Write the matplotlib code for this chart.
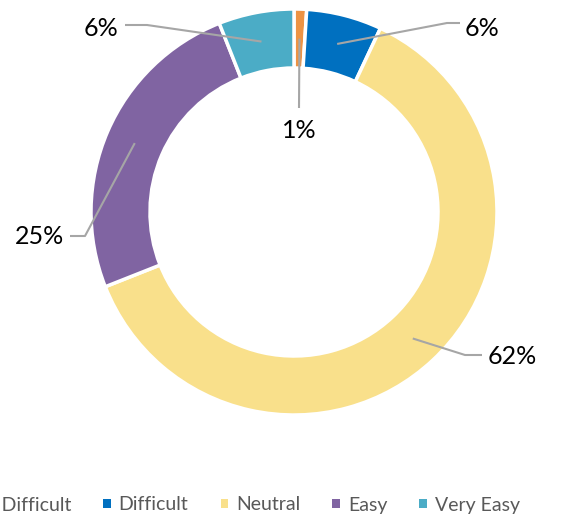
import matplotlib
matplotlib.use('Agg')
import matplotlib.pyplot as plt
from matplotlib.patches import Patch
import numpy as np

# Dados
categorias = ['Very Difficult', 'Difficult', 'Neutral', 'Easy', 'Very Easy']
valores = [1, 6, 62, 25, 6]
rotulos = ['1%', '6%', '62%', '25%', '6%']
cores = ['#ED9344', '#0070C0', '#F9E08B', '#8064A2', '#4BACC6']

plt.rcParams['font.family'] = ['Lato', 'DejaVu Sans']

W, H = 569, 519
fig = plt.figure(figsize=(W / 100, H / 100), dpi=100)
ax = fig.add_axes([0, 0, 1, 1])

cx, cy, R, largura = 294, H - 212, 203, 59
wedges, _ = ax.pie(valores, colors=cores, startangle=90, counterclock=False,
                   radius=R, center=(cx, cy),
                   wedgeprops=dict(width=largura, edgecolor='white', linewidth=2.5))
ax.set_xlim(0, W)
ax.set_ylim(0, H)
ax.set_aspect('equal')
ax.axis('off')

# posicoes dos rotulos (pixels a partir do topo): texto, alinhamento, cotovelo da linha
layout = [
    dict(txt=(299, 130), ha='center', path=[(299, 108)]),
    dict(txt=(465, 28), ha='left', path=[(447, 23), (460, 23)]),
    dict(txt=(488, 356), ha='left', path=[(465, 355), (482, 355)]),
    dict(txt=(64, 237), ha='right', path=[(85, 236), (70, 236)]),
    dict(txt=(118, 28), ha='right', path=[(147, 25), (125, 25)]),
]

r_meio = R - largura / 2
for w, lab, lay in zip(wedges, rotulos, layout):
    ang = np.deg2rad((w.theta1 + w.theta2) / 2)
    ax_, ay_ = cx + r_meio * np.cos(ang), cy + r_meio * np.sin(ang)
    xs = [ax_] + [p[0] for p in lay['path']]
    ys = [ay_] + [H - p[1] for p in lay['path']]
    ax.plot(xs, ys, color='#A6A6A6', lw=1.5, solid_capstyle='butt')
    ax.text(lay['txt'][0], H - lay['txt'][1], lab, ha=lay['ha'], va='center',
            fontsize=18, color='black')

handles = [Patch(facecolor=c, edgecolor='none') for c in cores]
fig.legend(handles, categorias, loc='center right', bbox_to_anchor=(520 / W, 1 - 505 / H),
           ncol=5, frameon=False, fontsize=14, labelcolor='#595959',
           handlelength=0.4, handleheight=0.4, handletextpad=0.4, columnspacing=1.65,
           borderaxespad=0, borderpad=0)

fig.savefig('out.png', dpi=100)
